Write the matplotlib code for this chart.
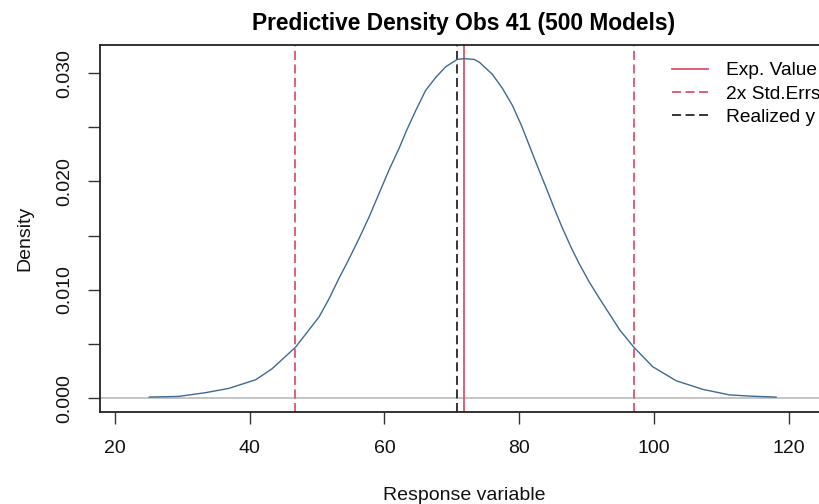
import matplotlib
matplotlib.use("Agg")
import matplotlib.pyplot as plt
from matplotlib.ticker import FixedLocator, FuncFormatter

plt.rcParams["font.family"] = ["Liberation Sans", "DejaVu Sans"]

# density curve
resp_x = [25.1, 29.4, 33.4, 36.9, 40.9, 43.3, 46.8, 50.3, 51.8, 53.2, 54.7,
          56.2, 57.7, 59.2, 60.7, 62.2, 63.2, 64.6, 66.1, 67.6, 69.1, 70.8,
          71.8, 73.3, 74.1, 76.0, 77.5, 79.0, 80.3, 81.5, 82.7, 84.0, 85.2,
          86.4, 87.7, 88.9, 90.4, 91.9, 94.9, 97.0, 99.8, 103.3, 107.3,
          111.2, 114.5, 118.1]
density = [0.0001, 0.00016, 0.0005, 0.0009, 0.0017, 0.0027, 0.0047, 0.0075,
           0.0092, 0.0110, 0.0128, 0.0147, 0.0167, 0.0189, 0.0211, 0.0231,
           0.0246, 0.0265, 0.0284, 0.0296, 0.0306, 0.03127, 0.03134, 0.03127,
           0.0310, 0.0299, 0.0286, 0.0270, 0.0252, 0.0233, 0.0214, 0.0194,
           0.0175, 0.0157, 0.0139, 0.0124, 0.0107, 0.0092, 0.0063, 0.0047,
           0.0029, 0.0016, 0.0008, 0.0003, 0.00018, 0.0001]

exp_value = 71.82
std_err_bounds = [46.79, 96.95]
realized_y = 70.78

title = "Predictive Density Obs 41 (500 Models)"
legend_labels = ["Exp. Value", "2x Std.Errs", "Realized y"]

x_ticks = [20, 40, 60, 80, 100, 120]
y_ticks = [0.0, 0.005, 0.010, 0.015, 0.020, 0.025, 0.030]
y_labeled = [0.0, 0.010, 0.020, 0.030]

red = "#DF536B"

fig = plt.figure(figsize=(8.19, 5.04), dpi=100)
ax = fig.add_axes([100 / 819, 1 - 411.7 / 504, 728 / 819, 366.7 / 504])

ax.axhline(0, color="#C4C4C4", lw=1.4, zorder=1)
ax.plot(resp_x, density, color="#3E6A94", lw=1.0, zorder=3)

h_exp = ax.axvline(exp_value, color=red, lw=1.3, zorder=2)
h_se = None
for b in std_err_bounds:
    h_se = ax.axvline(b, color=red, lw=1.3, ls=(0, (5, 2.5)), zorder=2)
h_real = ax.axvline(realized_y, color="#262626", lw=1.3, ls=(0, (5, 2.5)), zorder=2)

ax.set_xlim(17.8, 125.8)
ax.set_ylim(-0.00125, 0.03260)

ax.xaxis.set_major_locator(FixedLocator(x_ticks))
ax.yaxis.set_major_locator(FixedLocator(y_ticks))
ax.yaxis.set_major_formatter(FuncFormatter(
    lambda v, p: f"{v:.3f}" if any(abs(v - t) < 1e-9 for t in y_labeled) else ""))

ax.tick_params(axis="both", direction="out", length=8.4, width=1.0,
               color="#333333", labelsize=14, labelcolor="#111111")
ax.tick_params(axis="x", pad=12)
ax.tick_params(axis="y", pad=10.8)
for lab in ax.get_yticklabels():
    lab.set_rotation(90)
    lab.set_va("center")

for s in ax.spines.values():
    s.set_linewidth(1.3)
    s.set_color("#222222")

ax.set_title(title, fontsize=16.4, fontweight="bold", pad=10.5)
ax.set_xlabel("Response variable", fontsize=14, color="#111111")
ax.set_ylabel("Density", fontsize=14, color="#111111")
ax.xaxis.set_label_coords((464 - 100) / 728, -(487 - 411.7) / 366.7)
ax.yaxis.set_label_coords(-(100 - 33) / 728, (411.7 - 238) / 366.7)

ax.legend([h_exp, h_se, h_real], legend_labels, loc="upper left",
          bbox_to_anchor=((672 - 100) / 728, 1 - 17 / 366.7), frameon=False,
          fontsize=13.8, handlelength=1.9, handletextpad=0.92,
          labelspacing=0.3, borderaxespad=0, borderpad=0)

fig.savefig("out.png", dpi=100)
